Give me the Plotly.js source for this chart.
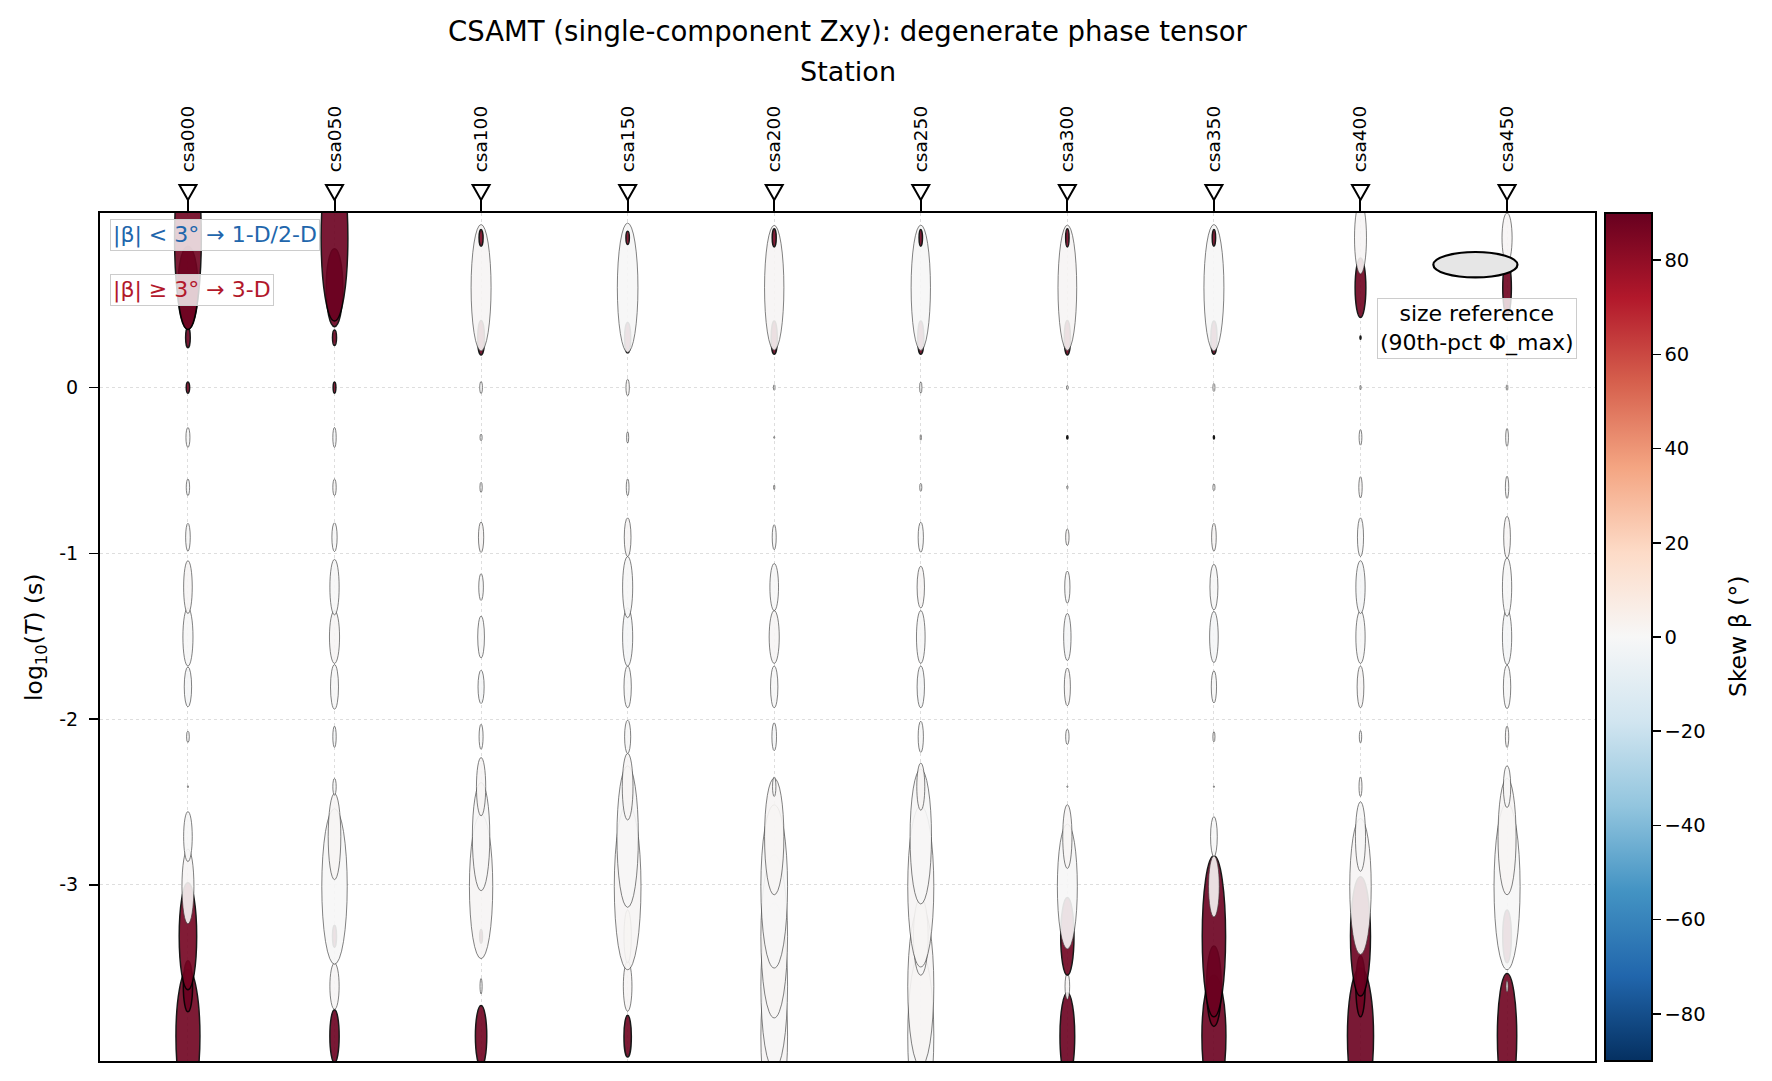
<!DOCTYPE html>
<html>
<head>
<meta charset="utf-8">
<script src="https://cdn.plot.ly/plotly-3.0.1.min.js"></script>
<style>
  html, body { margin: 0; padding: 0; background: #fff; }
  #chart { width: 1772px; height: 1081px; }
</style>
</head>
<body>
<div id="chart"></div>
<script>
// stations along the line
var stations = ['csa000', 'csa050', 'csa100', 'csa150', 'csa200', 'csa250', 'csa300', 'csa350', 'csa400', 'csa450'];

// CSAMT frequencies (Hz), high to low = drawing order
var freqs = [8192, 4096, 2048, 1024, 512, 256, 128, 64, 32, 16, 8, 4, 2, 1, 0.5, 0.25, 0.125];

// Phi_max (deg), one row per station, same order as freqs
var phiMax = [
    [56.0, 21.5, 45.0, 31.5, 21.0, 0.9, 4.7, 16.8, 24.5, 22.2, 11.7, 7.0, 8.4, 4.7, 8.4, 35.0, 77.0],
    [22.2, 19.4, 9.3, 65.4, 36.2, 7.0, 8.9, 18.7, 22.2, 23.3, 12.1, 7.0, 8.4, 4.7, 6.5, 32.7, 70.0],
    [25.7, 6.5, 5.8, 60.7, 45.5, 24.5, 10.5, 14.0, 17.5, 11.2, 12.8, 4.2, 2.8, 5.1, 14.5, 53.2, 7.0],
    [17.5, 21.0, 22.2, 70.0, 59.5, 28.0, 14.0, 17.5, 24.5, 25.7, 16.3, 7.0, 4.7, 7.0, 12.8, 54.4, 5.6],
    [70.0, 70.0, 68.6, 68.6, 49.0, 8.2, 11.7, 17.5, 22.2, 19.8, 10.5, 1.9, 0.9, 2.3, 14.0, 52.5, 7.7],
    [70.0, 67.7, 32.7, 67.7, 56.7, 19.8, 13.1, 17.5, 22.2, 17.5, 12.6, 3.3, 2.3, 4.7, 14.0, 52.7, 7.0],
    [36.4, 11.0, 32.7, 52.5, 26.8, 0.7, 6.5, 15.9, 19.8, 13.5, 7.0, 1.4, 1.4, 1.9, 14.5, 52.7, 7.7],
    [51.3, 33.8, 67.7, 25.7, 16.8, 0.7, 4.2, 13.5, 21.5, 19.1, 11.7, 2.8, 1.4, 3.3, 14.0, 53.2, 7.0],
    [57.2, 25.7, 50.2, 57.2, 29.2, 8.2, 5.1, 17.5, 22.2, 22.2, 16.3, 8.9, 6.5, 1.9, 1.4, 25.0, 30.3],
    [52.7, 4.7, 22.2, 70.0, 49.0, 17.5, 8.9, 18.2, 23.3, 24.5, 17.5, 9.3, 7.5, 2.3, 1.9, 23.3, 21.0]
];

// Phi_min (deg)
var phiMin = [
    [11.4, 4.4, 8.3, 5.7, 4.1, 0.5, 1.3, 3.5, 4.8, 4.1, 2.2, 1.6, 1.9, 1.6, 2.2, 9.5, 12.7],
    [4.4, 4.4, 1.9, 12.1, 6.0, 1.6, 1.6, 3.8, 4.8, 4.4, 2.5, 1.6, 1.6, 1.3, 1.9, 7.9, 12.7],
    [5.4, 1.0, 1.3, 11.1, 8.3, 4.4, 1.9, 2.9, 3.2, 2.2, 2.5, 1.1, 1.0, 1.3, 3.2, 9.5, 1.9],
    [3.5, 4.1, 3.5, 12.7, 10.2, 5.1, 2.9, 3.5, 4.8, 4.8, 3.2, 1.3, 1.0, 1.6, 2.9, 9.8, 1.6],
    [12.7, 12.7, 12.7, 12.7, 9.2, 1.6, 2.2, 3.5, 4.8, 4.1, 1.9, 0.6, 0.5, 0.8, 2.9, 9.2, 1.9],
    [12.4, 12.4, 7.0, 12.4, 10.2, 3.8, 2.5, 3.5, 4.1, 3.5, 2.5, 1.0, 0.6, 1.1, 2.9, 9.2, 1.6],
    [7.0, 2.2, 6.3, 9.5, 4.4, 0.5, 1.6, 2.9, 3.5, 2.5, 1.6, 0.6, 0.6, 0.8, 2.9, 8.9, 1.6],
    [11.4, 7.0, 11.1, 5.1, 3.2, 0.5, 1.0, 2.5, 4.1, 3.8, 2.2, 1.0, 0.5, 1.0, 2.9, 9.5, 1.6],
    [12.4, 4.4, 9.5, 10.2, 4.8, 1.4, 1.1, 3.2, 4.4, 4.4, 2.9, 1.6, 1.3, 0.6, 0.5, 5.1, 5.7],
    [9.2, 1.0, 4.1, 12.4, 8.6, 3.5, 1.6, 3.5, 4.4, 4.4, 3.2, 1.6, 1.3, 0.8, 0.5, 4.1, 4.8]
];

// skew beta (deg)
var skew = [
    [88, 89, 87, 1, 0, 1, 0, -1, 0, 1, 0, -1, 0, 86, 89, 89, 88],
    [89, 1, 87, 0, 1, 0, -1, 0, 1, 0, 0, 1, -1, 86, 88, 89, 89],
    [88, 0, 86, 1, 0, 1, 0, -1, 0, 0, 1, 0, -1, 0, 87, 1, 85],
    [88, 1, 2, 1, 0, 1, 0, 0, -1, 0, 1, 0, 0, 1, 86, 0, 85],
    [1, 0, 1, 0, 1, 0, -1, 0, 1, 0, 0, 1, 0, -1, 87, 1, 86],
    [0, 1, 0, 1, 0, 1, 0, -1, 0, 1, 0, 0, 1, 0, 86, 0, 87],
    [89, 1, 88, 0, 1, 0, 0, 1, -1, 0, 1, 0, 85, 0, 87, 1, 86],
    [89, 88, 89, 1, 0, 0, 1, 0, -1, 0, 1, 0, 84, 1, 87, 0, 86],
    [89, 88, 89, 1, 0, 1, 0, 1, 0, -1, 0, 1, 0, 0, 85, 88, 1],
    [88, 1, 87, 0, 1, 0, 1, 0, -1, 0, 1, 0, 0, 1, 0, 88, 1]
];

var PHI_REF = 40;       // 90th-pct Phi_max (deg)
var PHI_REF_MIN = 10.7; // minor axis of the reference ellipse
var ELL_SCALE = 0.574;  // axis units for Phi = PHI_REF
var SKEW_3D = 3;

// matplotlib RdBu_r
var rdbuR = ['#053061', '#2166ac', '#4393c3', '#92c5de', '#d1e5f0', '#f7f7f7',
             '#fddbc7', '#f4a582', '#d6604d', '#b2182b', '#67001f'];
var colorscale = rdbuR.map(function(c, i) { return [i / (rdbuR.length - 1), c]; });

function hexToRgb(h)
{
    return [parseInt(h.substr(1, 2), 16), parseInt(h.substr(3, 2), 16), parseInt(h.substr(5, 2), 16)];
}

function skewColor(v)
{
    var t = Math.min(1, Math.max(0, (v + 90) / 180)) * (rdbuR.length - 1);
    var i = Math.min(rdbuR.length - 2, Math.floor(t));
    var f = t - i;
    var a = hexToRgb(rdbuR[i]), b = hexToRgb(rdbuR[i + 1]);
    var c = a.map(function(x, k) { return Math.round(x + (b[k] - x) * f); });
    return 'rgb(' + c.join(',') + ')';
}

window.addEventListener('load', function()
{
    var logT = freqs.map(function(f) { return -Math.log10(f); });
    var yMin = Math.min.apply(null, logT), yMax = Math.max.apply(null, logT);
    var yRange = [yMin - 0.15, yMax + 0.15];
    var xRange = [-0.6, stations.length - 1 + 0.6];
    var k = ELL_SCALE / PHI_REF;

    var plotTop = 213, plotBottom = 1061;

    var shapes = [];
    var cx = [], cy = [], cc = [];
    stations.forEach(function(name, s) {
        freqs.forEach(function(f, j) {
            var h = phiMax[s][j] * k;
            var w = phiMin[s][j] * k;
            var is3d = Math.abs(skew[s][j]) >= SKEW_3D;
            shapes.push({
                type: 'circle', xref: 'x', yref: 'y', layer: 'above',
                x0: s - w / 2, x1: s + w / 2,
                y0: logT[j] - h / 2, y1: logT[j] + h / 2,
                fillcolor: skewColor(skew[s][j]),
                opacity: 0.9,
                line: { color: is3d ? '#000000' : '#3a3a3a', width: is3d ? 1.5 : 0.7 }
            });
            cx.push(s); cy.push(logT[j]); cc.push(skew[s][j]);
        });
        // station marker (open down-triangle) above the frame
        shapes.push({
            type: 'path', xref: 'x', yref: 'paper', xsizemode: 'pixel', ysizemode: 'pixel',
            xanchor: s, yanchor: 1, layer: 'above',
            path: 'M-8.5,28 L8.5,28 L0,13 Z',
            fillcolor: '#ffffff', line: { color: '#000000', width: 2 }
        });
    });

    // size reference ellipse
    var rx = xRange[0] + 0.92 * (xRange[1] - xRange[0]);
    var ry = yRange[0] + 0.939 * (yRange[1] - yRange[0]);
    var rw = PHI_REF * k, rh = PHI_REF_MIN * k;
    shapes.push({
        type: 'circle', xref: 'x', yref: 'y', layer: 'above',
        x0: rx - rw / 2, x1: rx + rw / 2, y0: ry - rh / 2, y1: ry + rh / 2,
        fillcolor: '#e6e6e6', line: { color: '#000000', width: 2.2 }
    });

    var colorTrace = {
        x: cx, y: cy, mode: 'markers', type: 'scatter', hoverinfo: 'skip',
        marker: {
            size: 1, opacity: 0, color: cc, cmin: -90, cmax: 90, colorscale: colorscale,
            showscale: true,
            colorbar: {
                x: 1.0067, xanchor: 'left', xpad: 0, y: 0.5, yanchor: 'middle', ypad: 0,
                len: 1, lenmode: 'fraction', thickness: 47, thicknessmode: 'pixels',
                outlinewidth: 2, outlinecolor: '#000000',
                tickvals: [-80, -60, -40, -20, 0, 20, 40, 60, 80],
                ticks: 'outside', ticklen: 8, tickwidth: 1.5, tickcolor: '#000000',
                tickfont: { family: 'DejaVu Sans', size: 19.5, color: '#000000' }
            }
        },
        showlegend: false
    };

    var font = 'DejaVu Sans';
    var layout = {
        width: 1772, height: 1081,
        margin: { l: 100, r: 177, t: plotTop, b: 1081 - plotBottom },
        paper_bgcolor: '#ffffff', plot_bgcolor: '#ffffff',
        font: { family: font, color: '#000000' },
        showlegend: false,
        title: {
            text: 'CSAMT (single-component Zxy): degenerate phase tensor',
            font: { family: font, size: 27.5, color: '#000000' },
            x: 0.5, xref: 'paper', xanchor: 'center',
            y: 1 - 31.7 / 1081, yref: 'container', yanchor: 'middle'
        },
        xaxis: {
            range: xRange, side: 'top',
            tickvals: stations.map(function(_, i) { return i; }), ticktext: stations,
            tickangle: -90, ticks: 'outside', ticklen: 13, tickwidth: 2, tickcolor: '#000000',
            ticklabelstandoff: 22,
            tickfont: { family: font, size: 18.5, color: '#000000' },
            showline: true, mirror: true, linecolor: '#000000', linewidth: 2,
            showgrid: true, gridcolor: '#d6d6d6', griddash: 'dot', gridwidth: 0.8,
            zeroline: false, fixedrange: true
        },
        yaxis: {
            range: yRange,
            tickvals: [-3, -2, -1, 0], ticktext: ['-3', '-2', '-1', '0'],
            ticks: 'outside', ticklen: 9, tickwidth: 1.5, tickcolor: '#000000',
            ticklabelstandoff: 7,
            tickfont: { family: font, size: 19, color: '#000000' },
            showline: true, mirror: true, linecolor: '#000000', linewidth: 2,
            showgrid: true, gridcolor: '#d6d6d6', griddash: 'dot', gridwidth: 0.8,
            zeroline: false, fixedrange: true
        },
        shapes: shapes,
        annotations: [
            {
                text: 'Station', xref: 'paper', yref: 'paper', x: 0.5, y: (plotBottom - 71.6) / (plotBottom - plotTop),
                xanchor: 'center', yanchor: 'middle', showarrow: false,
                font: { family: font, size: 27, color: '#000000' }
            },
            {
                text: 'log<sub>10</sub>(<i>T</i>) (s)', xref: 'paper', yref: 'paper', x: -0.0435, y: 0.5,
                xanchor: 'center', yanchor: 'middle', textangle: -90, showarrow: false,
                font: { family: font, size: 23.5, color: '#000000' }
            },
            {
                text: 'Skew β (°)', xref: 'paper', yref: 'paper', x: 1.0957, y: 0.5,
                xanchor: 'center', yanchor: 'middle', textangle: -90, showarrow: false,
                font: { family: font, size: 23.5, color: '#000000' }
            },
            {
                text: '|β| < 3° → 1-D/2-D', xref: 'paper', yref: 'paper', x: 0.0067, y: 0.993,
                xanchor: 'left', yanchor: 'top', showarrow: false,
                bgcolor: 'rgba(255,255,255,0.8)', bordercolor: '#cccccc', borderwidth: 1, borderpad: 2,
                font: { family: font, size: 22, color: '#2166ac' }
            },
            {
                text: '|β| ≥ 3° → 3-D', xref: 'paper', yref: 'paper', x: 0.0067, y: 0.928,
                xanchor: 'left', yanchor: 'top', showarrow: false,
                bgcolor: 'rgba(255,255,255,0.8)', bordercolor: '#cccccc', borderwidth: 1, borderpad: 2,
                font: { family: font, size: 22, color: '#b2182b' }
            },
            {
                text: 'size reference<br>(90th-pct Φ_max)', xref: 'paper', yref: 'paper', x: 0.921, y: 0.900,
                xanchor: 'center', yanchor: 'top', showarrow: false, align: 'center',
                bgcolor: 'rgba(255,255,255,0.8)', bordercolor: '#cccccc', borderwidth: 1, borderpad: 2,
                font: { family: font, size: 22, color: '#000000' }
            }
        ]
    };

    Plotly.newPlot('chart', [colorTrace], layout, { displayModeBar: false, staticPlot: true });
});
</script>
</body>
</html>
